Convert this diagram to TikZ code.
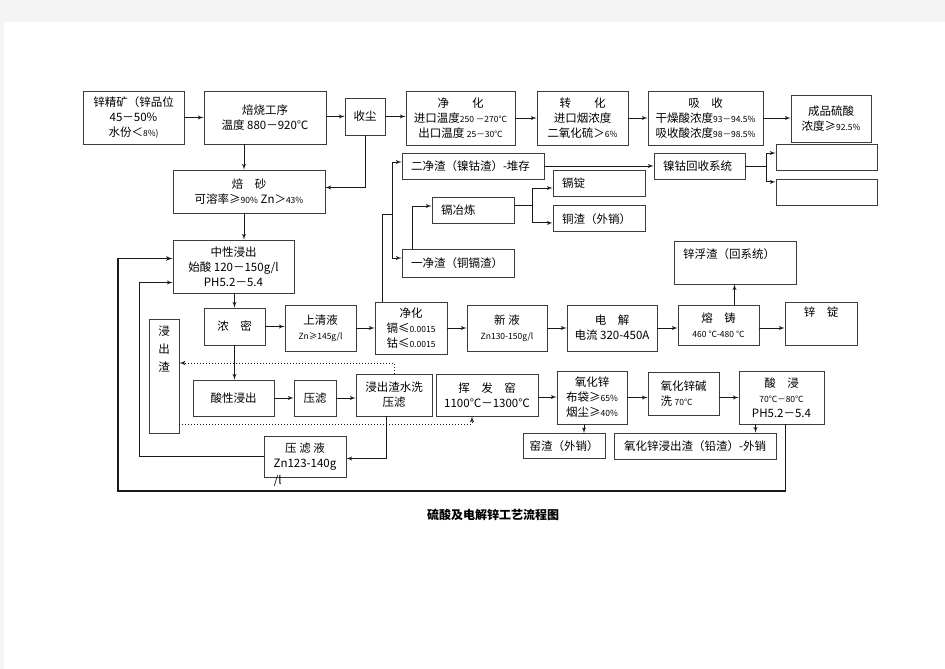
\documentclass[tikz,border=0pt]{standalone}
\usepackage{xcolor}
\usepackage{fontspec}
\setmainfont{Noto Sans CJK SC}
\usepackage{tikz}
\usetikzlibrary{shapes,arrows,positioning,calc}
\definecolor{ZnInk}{RGB}{25,25,25}
\definecolor{ZnFrame}{RGB}{60,60,60}
\definecolor{ZnPage}{RGB}{244,244,244}
\newcommand{\smn}[1]{{\fontsize{8.5}{10}\selectfont #1}}

\begin{document}
\begin{tikzpicture}[x=1pt, y=-1pt, font=\fontsize{11.5}{15}\selectfont]
  \tikzstyle{block} = [rectangle, draw=ZnFrame, line width=0.9pt, text=black, inner sep=2pt, align=center]
  \tikzstyle{lblock} = [block, inner xsep=9pt, align=left]
  \tikzstyle{link} = [draw=ZnInk, line width=0.9pt]
  \tikzstyle{line} = [link, -latex']
  \tikzstyle{dotline} = [draw=ZnInk, line width=1pt, dotted, -latex']

  \useasboundingbox (0,0) rectangle (945,669);
  \fill[ZnPage] (0,0) rectangle (945,22);
  \fill[ZnPage] (0,0) rectangle (4,669);

  \node [block, minimum width=101, minimum height=53] (ore) at (133.5,117.5) {锌精矿（锌品位\\45－50\%\\水份＜\smn{8\%)}};
  \node [block, minimum width=122, minimum height=53] (roast) at (265,117.5) {焙烧工序\\温度 880－920℃};
  \node [block, minimum width=40, minimum height=37] (dust) at (365,116.5) {收尘};
  \node [block, minimum width=109, minimum height=54] (purifyA) at (460.5,118) {净　　化\\进口温度\smn{250 －270℃}\\出口温度 \smn{25－30℃}};
  \node [block, minimum width=91, minimum height=54] (convert) at (582.5,118) {转　　化\\进口烟浓度\\二氧化硫＞\smn{6\%}};
  \node [block, minimum width=115, minimum height=54] (absorb) at (705.5,118) {吸　收\\干燥酸浓度\smn{93－94.5\%}\\吸收酸浓度\smn{98－98.5\%}};
  \node [block, minimum width=80, minimum height=47] (acid) at (831,118.5) {成品硫酸\\浓度≥\smn{92.5\%}};
  \node [block, minimum width=152, minimum height=43] (calcine) at (249,191.5) {焙　砂\\可溶率≥\smn{90\%} Zn＞\smn{43\%}};

  \node [lblock, text width=124, minimum height=26] (slagB) at (473,166) {二净渣（镍钴渣）-堆存};
  \node [lblock, text width=73, minimum height=26] (nico) at (699.5,166) {镍钴回收系统};
  \node [block, minimum width=101, minimum height=26] (blankA) at (826.5,157) {};
  \node [block, minimum width=101, minimum height=26, below=9pt of blankA] (blankB) {};
  \node [lblock, text width=74, minimum height=26] (cdingot) at (599,183) {镉锭};
  \node [lblock, text width=74, minimum height=26, below=9pt of cdingot] (cuslag) {铜渣（外销）};
  \node [lblock, text width=64, minimum height=26] (cdsmelt) at (473,210) {镉冶炼};
  \node [lblock, text width=94, minimum height=28] (slagA) at (458,263) {一净渣（铜镉渣）};
  \node [lblock, text width=104, minimum height=43, text depth=17] (dross) at (735,262.5) {锌浮渣（回系统）};

  \node [block, minimum width=121, minimum height=53] (neutral) at (233.5,266.5) {中性浸出\\始酸 120－150g/l\\PH5.2－5.4};
  \node [block, minimum width=61, minimum height=37] (thick) at (234.5,326.5) {浓　密};
  \node [block, minimum width=71, minimum height=46] (clear) at (320.5,328) {上清液\\\smn{Zn≥145g/l}};
  \node [block, minimum width=72, minimum height=52] (purifyB) at (411,328) {净化\\镉≤\smn{0.0015}\\钴≤\smn{0.0015}};
  \node [block, minimum width=80, minimum height=46] (newliq) at (507,328) {新 液\\\smn{Zn130-150g/l}};
  \node [block, minimum width=90, minimum height=46] (electro) at (612,328) {电　解\\电流 320-450A};
  \node [block, minimum width=81, minimum height=40] (cast) at (718.5,325) {熔　铸\\\smn{460 ℃-480 ℃}};
  \node [block, minimum width=72, minimum height=43, text depth=23] (ingot) at (821,323.5) {锌　锭};

  \node [block, minimum width=30, minimum height=114, text depth=54, font=\fontsize{11.5}{18}\selectfont] (residue) at (164,376) {浸\\出\\渣};
  \node [block, minimum width=81, minimum height=36] (acidleach) at (233.5,398) {酸性浸出};
  \node [block, minimum width=42, minimum height=36] (press) at (315,398) {压滤};
  \node [block, minimum width=76, minimum height=42] (wash) at (394,395) {浸出渣水洗\\压滤};
  \node [block, minimum width=102, minimum height=42] (kiln) at (487,395) {挥　发　窑\\1100℃－1300℃};
  \node [block, minimum width=70, minimum height=53] (zno) at (592,397.5) {氧化锌\\布袋≥\smn{65\%}\\烟尘≥\smn{40\%}};
  \node [block, minimum width=71, minimum height=43, align=left] (alkali) at (683.5,393.5) {氧化锌碱\\洗 \smn{70℃}};
  \node [block, minimum width=85, minimum height=53] (acidsoak) at (781.5,397.5) {酸　浸\\\smn{70℃－80℃}\\PH5.2－5.4};
  \node [block, minimum width=82, minimum height=25] (kilnslag) at (564,446) {窑渣（外销）};
  \node [block, minimum width=162, minimum height=26] (pbslag) at (695,446) {氧化锌浸出渣（铅渣）-外销};
  \node [block, minimum width=82, minimum height=41, label={[anchor=base west, inner sep=0pt, xshift=10pt, yshift=-7pt]south west:/l}] (filtrate) at (305,456.5) {压 滤 液\\Zn123-140g};

  \node [font=\fontsize{12}{14}\selectfont\bfseries] (title) at (493,515) {硫酸及电解锌工艺流程图};

  \coordinate (fork) at (392,214);
  \coordinate (cdfork) at (532,205);
  \coordinate (nifork) at (766,166);
  \coordinate (loopA) at (139,456.5);
  \coordinate (loopB) at (118,491);

  \path [line] (ore) -- (roast);
  \path [line] (roast.east |- dust) -- (dust);
  \path [line] (dust.east) -- (dust.east -| purifyA.west);
  \path [line] (purifyA) -- (convert);
  \path [line] (convert) -- (absorb);
  \path [line] (absorb.east) -- (absorb.east -| acid.west);
  \path [line] ([xshift=-21]roast.south) -- ([xshift=-21]roast.south |- calcine.north);
  \path [line] (dust.south) |- ([yshift=4]calcine.east);
  \path [line] ([xshift=-5]calcine.south) -- ([xshift=-5]calcine.south |- neutral.north);
  \path [line] (neutral.south -| thick) -- (thick);
  \path [line] (thick.east) -- (thick.east -| clear.west);
  \path [line] (clear) -- (purifyB);
  \path [line] (purifyB) -- (newliq);
  \path [line] (newliq) -- (electro);
  \path [line] (electro) -- (electro -| cast.west);
  \path [line] ([yshift=-3]cast.east) -- ([yshift=-3]cast.east -| ingot.west);
  \path [line] ([xshift=16]cast.north) -- ([xshift=16]cast.north |- dross.south);

  \path [link] ([xshift=-29]purifyB.north) |- (fork);
  \path [line] (fork) |- ([yshift=4]slagB.west);
  \path [line] (fork) |- ([yshift=5]slagA.west);
  \path [line] ([xshift=-46]slagA.north) |- ([yshift=4]cdsmelt.west);
  \path [link] ([yshift=5]cdsmelt.east) -- (cdfork);
  \path [line] (cdfork) |- ([yshift=-5]cdingot.west);
  \path [line] (cdfork) |- ([yshift=-4]cuslag.west);
  \path [line] (slagB) -- (nico);
  \path [link] (nico) -- (nifork);
  \path [line] (nifork) |- ([yshift=4]blankA.west);
  \path [line] (nifork) |- ([yshift=11]blankB.west);

  \path [line] (thick.south) -- (thick.south |- acidleach.north);
  \path [line] (acidleach) -- (press);
  \path [line] (press.east) -- (press.east -| wash.west);
  \path [line] ([yshift=-2]kiln.east) -- ([yshift=-2]kiln.east -| zno.west);
  \path [line] (zno) -- (zno -| alkali.west);
  \path [line] (zno -| alkali.east) -- (zno -| acidsoak.west);
  \path [line] ([xshift=-8]zno.south) -- ([xshift=-8]zno.south |- kilnslag.north);
  \path [line] ([xshift=-26]acidsoak.south) -- ([xshift=-26]acidsoak.south |- pbslag.north);
  \path [line] ([xshift=-8]wash.south) |- ([yshift=-2]filtrate.east);
  \path [line] (filtrate.west) -- (loopA) |- ([yshift=-16]neutral.west);
  \path [line, line width=1.2pt] ([xshift=4]acidsoak.south) |- (loopB) |- ([yshift=8]neutral.west);
  \path [dotline] (wash.north) |- ([yshift=13]residue.east);
  \path [dotline] ([yshift=-48]residue.east) -| ([xshift=-15]kiln.south);
\end{tikzpicture}
\end{document}
